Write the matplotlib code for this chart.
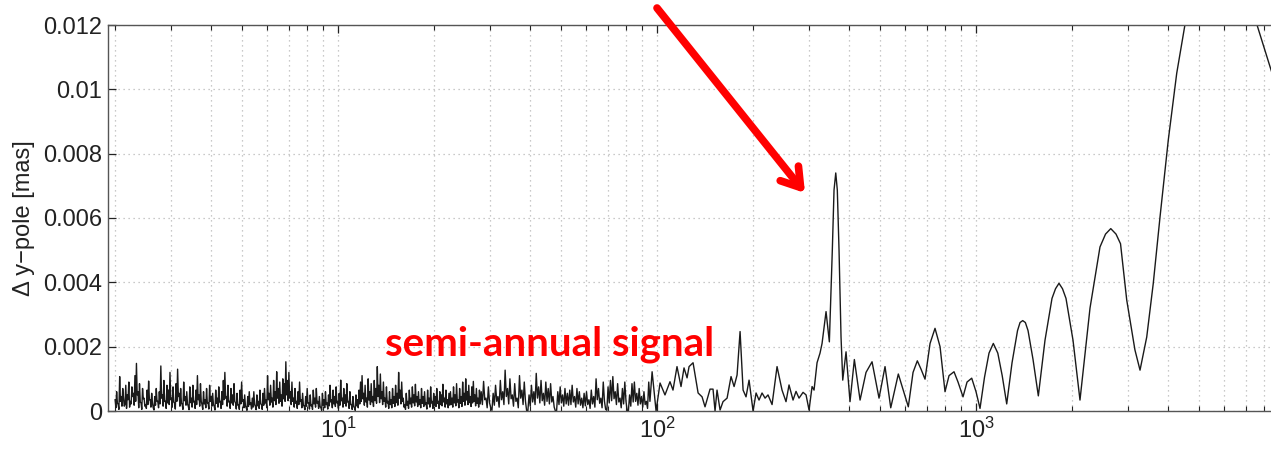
import numpy as np
import matplotlib
matplotlib.use("Agg")
import matplotlib.pyplot as plt
from matplotlib.ticker import FixedLocator, FixedFormatter

plt.rcParams["font.family"] = ["Liberation Sans", "DejaVu Sans"]
plt.rcParams["mathtext.fontset"] = "custom"
plt.rcParams["mathtext.rm"] = "Liberation Sans"

# ------------------------------------------------------------
# Amplitude spectrum of y-pole differences
# ------------------------------------------------------------

# short periods (2 .. ~28 d), amplitude in 1e-5 mas: local maxima ...
noise_short_hi = [
    35, 60, 20, 107, 45, 70, 15, 80, 50, 90,
    30, 75, 55, 110, 148, 60, 85, 25, 70, 40,
    20, 65, 93, 35, 55, 10, 45, 70, 30, 60,
    140, 50, 95, 30, 80, 65, 120, 40, 75, 25,
    85, 130, 55, 70, 20, 90, 45, 60, 15, 75,
    40, 80, 30, 65, 110, 50, 85, 20, 60, 35,
    70, 25, 80, 45, 55, 15, 65, 40, 75, 30,
    60, 95, 120, 45, 80, 30, 70, 50, 85, 25,
    55, 20, 65, 90, 35, 50, 10, 45, 60, 25,
    40, 60, 15, 50, 30, 65, 20, 55, 70, 35,
    110, 55, 80, 40, 95, 60, 122, 70, 90, 50,
    100, 85, 153, 95, 120, 60, 90, 40, 70, 30,
    60, 90, 35, 55, 15, 45, 70, 25, 50, 20,
    65, 40, 70, 30, 45, 10, 55, 35, 60, 25,
    50, 80, 35, 65, 45, 75, 30, 55, 96, 40,
    70, 50, 85, 30, 60, 20, 45, 10, 50, 35,
    65, 90, 110, 55, 80, 40, 100, 60, 85, 45,
    95, 70, 138, 80, 115, 60, 90, 40, 75, 30,
    60, 35, 70, 45, 80, 55, 120, 65, 90, 40,
    20, 55, 30, 65, 40, 75, 50, 83, 45, 60,
    35, 70, 45, 60, 25, 65, 40, 75, 30, 55,
    45, 70, 30, 60, 50, 83, 40, 65, 35, 55,
    60, 40, 75, 50, 85, 35, 70, 45, 90, 55,
    100, 60, 80, 45, 75, 92, 50, 70, 40, 65,
]
# ... and the minima between them
noise_short_lo = [
    10, 25, 5, 30, 15, 40, 20, 8, 35, 12,
    22, 45, 18, 30, 50, 10, 28, 5, 38, 15,
    8, 20, 35, 12, 25, 3, 18, 30, 10, 22,
    40, 15, 30, 8, 25, 20, 35, 12, 28, 6,
    30, 45, 15, 25, 5, 32, 18, 22, 4, 26,
    12, 28, 8, 20, 35, 15, 30, 5, 22, 10,
    25, 6, 30, 15, 20, 3, 24, 12, 28, 8,
    20, 35, 40, 15, 28, 8, 25, 18, 30, 6,
    18, 5, 22, 30, 10, 16, 2, 14, 20, 6,
    12, 20, 4, 16, 8, 22, 5, 18, 25, 10,
    35, 18, 28, 12, 32, 20, 40, 24, 30, 15,
    38, 30, 50, 32, 40, 20, 30, 12, 24, 8,
    20, 30, 10, 18, 4, 15, 24, 6, 16, 5,
    22, 12, 24, 8, 14, 2, 18, 10, 20, 6,
    16, 28, 10, 22, 14, 25, 8, 18, 32, 12,
    24, 15, 28, 8, 20, 5, 14, 2, 16, 10,
    22, 30, 38, 18, 28, 12, 34, 20, 28, 14,
    32, 24, 45, 26, 38, 20, 30, 12, 25, 8,
    20, 10, 24, 14, 26, 18, 40, 22, 30, 12,
    5, 18, 8, 22, 12, 25, 16, 28, 14, 20,
    10, 24, 14, 20, 6, 22, 12, 25, 8, 18,
    14, 24, 8, 20, 16, 28, 12, 22, 10, 18,
    20, 12, 25, 16, 28, 10, 24, 14, 30, 18,
    34, 20, 26, 14, 25, 30, 16, 24, 12, 22,
]

# ~28 .. ~94 d, amplitude in 1e-5 mas
noise_mid_hi = [
    60, 92, 40, 75, 10, 55, 80, 45, 95, 60,
    127, 70, 100, 50, 85, 40, 110, 65, 90, 0,
    50, 80, 60, 117, 75, 95, 55, 90, 70, 85,
    45, 0, 60, 75, 50, 70, 55, 65, 80, 45,
    70, 60, 40, 55, 60, 35, 65, 45, 100, 70,
    40, 90, 5, 75, 95, 107, 60, 85, 40, 70,
    90, 0, 50, 85, 90, 55, 70, 45, 60, 30,
    90,
]
noise_mid_lo = [
    20, 35, 10, 25, 2, 18, 30, 12, 35, 20,
    45, 22, 38, 15, 30, 10, 40, 20, 30, 0,
    15, 28, 20, 40, 25, 32, 18, 30, 22, 28,
    12, 0, 20, 25, 15, 22, 18, 20, 28, 12,
    22, 18, 10, 16, 20, 8, 22, 12, 35, 24,
    10, 30, 2, 25, 32, 38, 20, 28, 10, 22,
    30, 0, 15, 28, 30, 18, 22, 12, 20, 8,
    30,
]

# longer periods [days] and amplitudes [mas]
period_long = [
    96.5, 99.3, 102.2, 105.9, 109.8, 112.2, 115.5, 118.9, 121.5, 124.2,
    126.0, 129.7, 134.5, 138.4, 141.4, 146.6, 149.8, 152.0, 154.2, 157.6,
    161.0, 165.8, 170.6, 174.4, 178.2, 182.1, 186.1, 190.1, 194.3, 200.0,
    204.4, 208.8, 213.4, 218.1, 222.8, 229.4, 237.8, 246.5, 253.7, 259.3,
    266.9, 272.7, 278.7, 286.9, 293.2, 299.6, 306.2, 310.6, 317.4, 324.3,
    329.1, 338.7, 346.9, 354.4, 358.8, 363.3, 367.4, 372.0, 377.4, 382.1,
    391.3, 402.7, 415.5, 433.0, 452.0, 472.1, 496.5, 518.5, 540.3, 570.7,
    613.4, 634.7, 654.6, 672.4, 692.0, 717.6, 743.8, 771.3, 799.5, 823.0,
    853.1, 878.2, 910.4, 937.2, 969.4, 1000.0, 1029.2, 1063.2, 1098.3, 1133.0,
    1170.2, 1208.0, 1248.0, 1296.9, 1349.4, 1374.0, 1401.0, 1428.0, 1455.7, 1509.2,
    1568.0, 1645.3, 1730.5, 1775.0, 1820.0, 1867.0, 1914.6, 2014.0, 2118.0, 2277.0,
    2447.0, 2547.0, 2645.0, 2747.0, 2838.0, 2968.0, 3149.0, 3267.0, 3429.0, 3595.0,
    3775.0, 4007.0, 4258.0, 4553.0, 5038.0, 5905.0, 6724.0, 7548.0, 8411.0, 9646.0,
]
amp_long = [
    0.00122, 0.0, 0.00087, 0.0005, 0.00091, 0.00065, 0.00138, 0.00076, 0.00134, 0.00103,
    0.00138, 0.0015, 0.00056, 0.00044, 0.00013, 0.00068, 0.00068, 0.0, 0.00065, 0.00003,
    0.00029, 0.0004, 0.00107, 0.00076, 0.00112, 0.00247, 0.00065, 0.00044, 0.00096, 0.0,
    0.00056, 0.00034, 0.00056, 0.0004, 0.0005, 0.0002, 0.00138, 0.00065, 0.00029, 0.00081,
    0.00034, 0.00061, 0.0004, 0.00058, 0.0005, 0.00003, 0.00076, 0.00065, 0.0015, 0.0018,
    0.0021, 0.00309, 0.00215, 0.005, 0.00687, 0.0074, 0.00687, 0.005, 0.0023, 0.00096,
    0.00184, 0.00029, 0.0016, 0.00034, 0.0012, 0.00153, 0.0004, 0.00138, 0.0001, 0.00115,
    0.00013, 0.0012, 0.00156, 0.0013, 0.00099, 0.0021, 0.00257, 0.002, 0.0006, 0.0011,
    0.00122, 0.0009, 0.00044, 0.0009, 0.00102, 0.0006, 0.00008, 0.00105, 0.0018, 0.0021,
    0.0018, 0.0011, 0.00022, 0.0015, 0.0025, 0.00275, 0.00281, 0.00275, 0.0025, 0.0016,
    0.00047, 0.0022, 0.0035, 0.0038, 0.00397, 0.0038, 0.0035, 0.0022, 0.00034, 0.0032,
    0.0051, 0.0055, 0.00567, 0.0055, 0.0052, 0.00345, 0.0019, 0.00127, 0.0023, 0.00397,
    0.00604, 0.00843, 0.0105, 0.0122, 0.0138, 0.0146, 0.0139, 0.0121, 0.0106, 0.0088,
]

ytick_vals = [0, 0.002, 0.004, 0.006, 0.008, 0.01, 0.012]
ytick_labels = ["0", "0.002", "0.004", "0.006", "0.008", "0.01", "0.012"]
xtick_vals = [1, 10, 100, 1000]


def interleave(hi, lo):
    return np.column_stack([hi, lo]).ravel() * 1e-5


amp_short = interleave(noise_short_hi, noise_short_lo)
amp_mid = interleave(noise_mid_hi, noise_mid_lo)

# periods of the two dense segments (evenly spaced in log period)
p_short = np.geomspace(2.0, 27.9, len(amp_short))
p_mid = np.geomspace(28.1, 95.0, len(amp_mid))

period = np.concatenate([p_short, p_mid, period_long])
amp = np.concatenate([amp_short, amp_mid, amp_long])

# ------------------------------------------------------------
# Plot
# ------------------------------------------------------------

W, H = 1271, 449
fig = plt.figure(figsize=(W / 100, H / 100), dpi=100)
ax = fig.add_axes([108 / W, 38 / H, (1295 - 108) / W, 386 / H])

ax.plot(period, amp, color="#1a1a1a", lw=1.0)

ax.set_xscale("log")
ax.set_xlim(1.9, 1e4)
ax.set_ylim(0, 0.012)
ax.xaxis.set_major_locator(FixedLocator(xtick_vals))

ax.yaxis.set_major_locator(FixedLocator(ytick_vals))
ax.yaxis.set_major_formatter(FixedFormatter(ytick_labels))

grid_kw = dict(color="#b8b8b8", linestyle=(0, (1, 3)), linewidth=0.9)
ax.grid(True, which="major", **grid_kw)
ax.grid(True, which="minor", axis="x", **grid_kw)

ax.tick_params(which="both", direction="in", top=True, right=True,
               labelsize=17, colors="#222222", pad=4.5)
ax.tick_params(which="major", length=6, width=0.9)
ax.tick_params(which="minor", length=3.5, width=0.8)
for s in ax.spines.values():
    s.set_color("#555555")
    s.set_linewidth(1.0)

ax.set_ylabel("Δ y−pole [mas]", fontsize=17, color="#222222")
ax.yaxis.set_label_coords(-0.0615, 0.5)

ax.text(14.0, 0.00174, "semi-annual signal", color="#ff0000",
        fontsize=29, fontweight="bold", family=["Lato", "DejaVu Sans"],
        ha="left", va="baseline")

ax.annotate("", xy=(805, H - 193), xytext=(657, H - 8),
            xycoords="figure pixels", textcoords="figure pixels",
            annotation_clip=False,
            arrowprops=dict(arrowstyle="->,head_length=0.65,head_width=0.42",
                            color="#ff0000", lw=5.5, mutation_scale=20,
                            shrinkA=0, shrinkB=0))

fig.savefig("out.png", dpi=100)
